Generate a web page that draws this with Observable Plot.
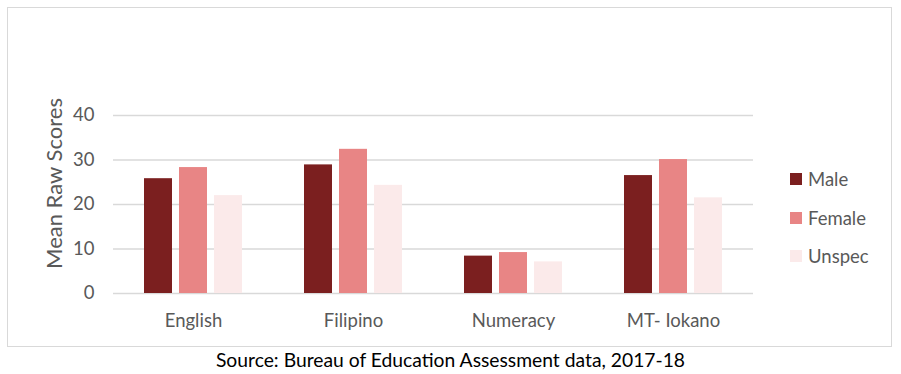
<!DOCTYPE html>
<html>
<head>
<meta charset="utf-8">
<script src="https://cdn.jsdelivr.net/npm/d3@7"></script>
<script src="https://cdn.jsdelivr.net/npm/@observablehq/plot@0.6"></script>
<style>
  html, body { margin: 0; padding: 0; background: #fff; }
  #wrap { position: relative; width: 901px; height: 374px; overflow: hidden; font-family: Lato, "Open Sans", sans-serif; }
  #frame { position: absolute; left: 7px; top: 7px; width: 885px; height: 340px; border: 1.5px solid #d9d9d9; box-sizing: border-box; }
  #chart { position: absolute; left: 0; top: 0; }
  #legend { position: absolute; left: 790px; top: 160px; color: #595959; font-size: 18.5px; }
  #legend .item { display: flex; align-items: center; height: 38.5px; }
  #legend .sw { width: 12px; height: 12px; margin-right: 6px; }
  #caption { position: absolute; left: 0; width: 901px; top: 348px; text-align: center; font-size: 19.3px; color: #000; }
</style>
</head>
<body>
<div id="wrap">
  <div id="frame"></div>
  <div id="chart"></div>
  <div id="legend"></div>
  <div id="caption"></div>
</div>
<script>
const subjects = ["English", "Filipino", "Numeracy", "MT- Iokano"];
const groups = ["Male", "Female", "Unspec"];
const male = [25.8, 28.9, 8.4, 26.5];
const female = [28.3, 32.4, 9.2, 30.1];
const unspec = [22.0, 24.3, 7.1, 21.5];
const colors = ["#7b1f1f", "#e88585", "#fbeaea"];
const yTicks = [0, 10, 20, 30, 40];
const yTitle = "Mean Raw Scores";
const source = "Source: Bureau of Education Assessment data, 2017-18";

const series = [male, female, unspec];
const rows = [];
subjects.forEach((s, i) => groups.forEach((g, j) => rows.push({subject: s, group: g, value: series[j][i]})));

const chart = Plot.plot({
  width: 901,
  height: 347,
  marginLeft: 112,
  marginRight: 147,
  marginTop: 115,
  marginBottom: 54,
  style: {fontFamily: "Lato, 'Open Sans', sans-serif", fontSize: "18.5px", color: "#595959", background: "transparent"},
  fx: {domain: subjects, padding: 0, label: null},
  x: {domain: groups, paddingInner: 0.211, paddingOuter: 0.865, axis: null},
  y: {domain: [0, 40]},
  color: {domain: groups, range: colors},
  marks: [
    Plot.ruleY(yTicks, {stroke: "#d9d9d9", strokeWidth: 1.5}),
    Plot.barY(rows, {fx: "subject", x: "group", y: "value", fill: "group"}),
    Plot.axisY({ticks: yTicks, tickSize: 0, tickPadding: 19, label: yTitle, labelAnchor: "center", labelOffset: 67, fontSize: 18.5}),
    Plot.axisFx({anchor: "bottom", tickSize: 0, tickPadding: 20, label: null, fontSize: 18.5})
  ]
});
document.getElementById("chart").appendChild(chart);
d3.select(chart).selectAll('[aria-label="y-axis label"]').attr("transform", function() {
  const t = d3.select(this).attr("transform") || "";
  return "translate(0,-21) " + t;
}).style("font-size", "22px").selectAll("text").text(yTitle);

const legend = d3.select("#legend");
groups.forEach((g, i) => {
  const it = legend.append("div").attr("class", "item");
  it.append("div").attr("class", "sw").style("background", colors[i]);
  it.append("span").text(g);
});
d3.select("#caption").text(source);
</script>
</body>
</html>
